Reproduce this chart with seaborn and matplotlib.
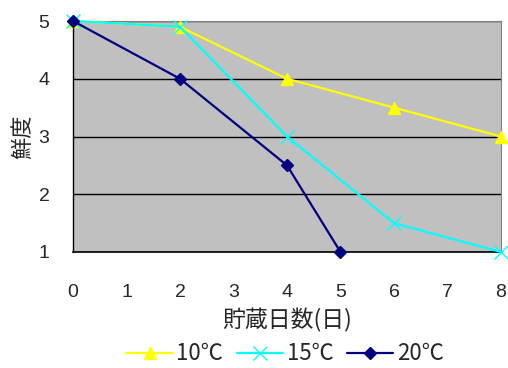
import matplotlib
matplotlib.use("Agg")
import matplotlib.pyplot as plt
import seaborn as sns
import pandas as pd

# storage days and freshness scores per storage temperature
days_10 = [0, 2, 4, 6, 8]
fresh_10 = [5, 4.9, 4, 3.5, 3]
days_15 = [0, 2, 4, 6, 8]
fresh_15 = [5, 4.9, 3, 1.5, 1]
days_20 = [0, 2, 4, 5]
fresh_20 = [5, 4, 2.5, 1]
series_names = ["10℃", "15℃", "20℃"]
x_ticks = [0, 1, 2, 3, 4, 5, 6, 7, 8]
y_ticks = [1, 2, 3, 4, 5]

series = {
    "10℃": pd.DataFrame({"days": days_10, "fresh": fresh_10}),
    "15℃": pd.DataFrame({"days": days_15, "fresh": fresh_15}),
    "20℃": pd.DataFrame({"days": days_20, "fresh": fresh_20}),
}

sns.set_style("white")
plt.rcParams["font.family"] = ["Liberation Sans", "Noto Sans CJK JP", "DejaVu Sans"]
cjk = ["Noto Sans CJK JP", "DejaVu Sans"]

fig = plt.figure(figsize=(5.08, 3.68), dpi=100)
ax = fig.add_axes([73 / 508, 1 - 252 / 368, 428 / 508, 231 / 368])
ax.set_facecolor("#C0C0C0")

palette = {"10℃": "#FFFF00", "15℃": "#00FFFF", "20℃": "#000080"}
markers = {"10℃": "^", "15℃": "x", "20℃": "D"}
sizes = {"10℃": 9, "15℃": 10, "20℃": 6}

handles = []
for name in series_names:
    sns.lineplot(data=series[name], x="days", y="fresh", color=palette[name],
                 marker=markers[name], markersize=sizes[name],
                 markeredgecolor=palette[name], markerfacecolor=palette[name],
                 markeredgewidth=1.0, linewidth=1.6, ax=ax, sort=False,
                 clip_on=False, zorder=3)
    handles.append(ax.get_lines()[-1])

ax.set_xlim(0, 8)
ax.set_ylim(1, 5)
ax.set_xticks(x_ticks)
ax.set_yticks(y_ticks)
ax.set_xticklabels([str(v) for v in x_ticks], fontsize=14)
ax.set_yticklabels([str(v) for v in y_ticks], fontsize=14)
ax.yaxis.grid(True, color="black", linewidth=1.0)
ax.set_axisbelow(True)

ax.tick_params(axis="x", direction="in", length=6, width=1, color="black", pad=23)
ax.tick_params(axis="y", length=0, pad=17)

ax.spines["left"].set_color("black")
ax.spines["bottom"].set_color("black")
ax.spines["left"].set_linewidth(1.0)
ax.spines["bottom"].set_linewidth(1.2)
ax.spines["top"].set_color("#808080")
ax.spines["right"].set_color("#808080")

ax.set_xlabel("貯蔵日数(日)", fontsize=16.5, family=cjk, labelpad=5)
ax.set_ylabel("鮮度", fontsize=16, family=cjk, labelpad=3)

fig.legend(handles, series_names, loc="center", bbox_to_anchor=(285 / 508, 1 - 354 / 368),
           ncol=3, frameon=False, prop={"family": cjk, "size": 16},
           handlelength=2.1, handletextpad=0.15, columnspacing=0.6,
           borderpad=0.1)

fig.savefig("out.png", dpi=100, facecolor="white")
